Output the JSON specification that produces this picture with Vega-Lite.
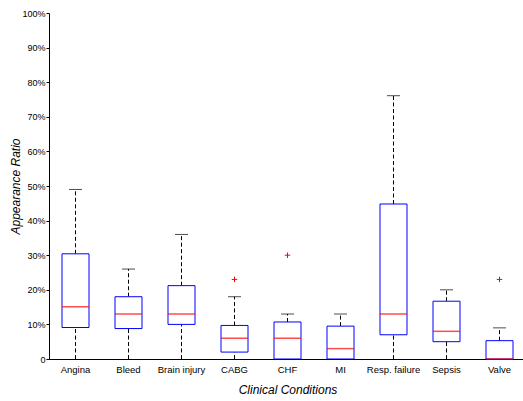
{
  "$schema": "https://vega.github.io/schema/vega-lite/v6.json",
  "width": 474,
  "height": 346,
  "autosize": {"type": "none"},
  "padding": {"left": 49, "top": 13, "right": 0, "bottom": 42},
  "background": "white",
  "config": {
    "view": {"stroke": null},
    "font": "Liberation Sans",
    "axis": {
      "domainColor": "#000000",
      "tickColor": "#000000",
      "labelColor": "#000000",
      "titleColor": "#000000",
      "grid": false,
      "titleFontStyle": "italic",
      "titleFontWeight": "normal",
      "titleFontSize": 12
    },
    "axisY": {
      "values": [0, 0.1, 0.2, 0.3, 0.4, 0.5, 0.6, 0.7, 0.8, 0.9, 1],
      "labelExpr": "datum.value == 0 ? '0' : format(datum.value, '.0%')",
      "labelFontSize": 9,
      "tickSize": 3,
      "labelPadding": 1,
      "labelOverlap": false,
      "titleX": -27,
      "titleBaseline": "bottom"
    }
  },
  "datasets": {
    "boxes": [
      {"condition": "Angina", "min": 0, "q1": 0.091, "median": 0.151, "q3": 0.304, "max": 0.49},
      {"condition": "Bleed", "min": 0, "q1": 0.088, "median": 0.13, "q3": 0.18, "max": 0.26},
      {"condition": "Brain injury", "min": 0, "q1": 0.1, "median": 0.13, "q3": 0.212, "max": 0.36},
      {"condition": "CABG", "min": 0, "q1": 0.02, "median": 0.06, "q3": 0.097, "max": 0.18},
      {"condition": "CHF", "min": 0, "q1": 0, "median": 0.06, "q3": 0.107, "max": 0.13},
      {"condition": "MI", "min": 0, "q1": 0, "median": 0.03, "q3": 0.095, "max": 0.13},
      {"condition": "Resp. failure", "min": 0, "q1": 0.07, "median": 0.13, "q3": 0.448, "max": 0.761},
      {"condition": "Sepsis", "min": 0, "q1": 0.05, "median": 0.08, "q3": 0.167, "max": 0.2},
      {"condition": "Valve", "min": 0, "q1": 0, "median": 0, "q3": 0.053, "max": 0.09}
    ],
    "outliers": [
      {"condition": "CABG", "value": 0.23},
      {"condition": "CHF", "value": 0.30},
      {"condition": "Valve", "value": 0.23}
    ]
  },
  "encoding": {
    "x": {
      "field": "condition",
      "type": "nominal",
      "sort": ["Angina", "Bleed", "Brain injury", "CABG", "CHF", "MI", "Resp. failure", "Sepsis", "Valve"],
      "scale": {"type": "band", "paddingInner": 0, "paddingOuter": 0, "range": [0, 477]},
      "title": "Clinical Conditions",
      "axis": {
        "labelAngle": 0,
        "labelFontSize": 9.5,
        "ticks": false,
        "labelPadding": 5,
        "titlePadding": 11
      }
    }
  },
  "layer": [
    {
      "data": {"name": "boxes"},
      "mark": {"type": "rule", "color": "#000000", "strokeWidth": 1, "strokeDash": [4, 2.5]},
      "encoding": {
        "y": {
          "field": "min",
          "type": "quantitative",
          "scale": {"domain": [0, 1], "nice": false, "zero": true},
          "title": "Appearance Ratio"
        },
        "y2": {"field": "q1"}
      }
    },
    {
      "data": {"name": "boxes"},
      "mark": {"type": "rule", "color": "#000000", "strokeWidth": 1, "strokeDash": [4, 2.5]},
      "encoding": {
        "y": {"field": "q3", "type": "quantitative", "title": "Appearance Ratio"},
        "y2": {"field": "max"}
      }
    },
    {
      "data": {"name": "boxes"},
      "mark": {"type": "tick", "color": "#000000", "size": 13, "thickness": 1, "orient": "horizontal"},
      "encoding": {
        "y": {"field": "max", "type": "quantitative", "title": "Appearance Ratio"}
      }
    },
    {
      "data": {"name": "boxes"},
      "mark": {"type": "bar", "size": 27, "fill": "#ffffff", "stroke": "#0000ff", "strokeWidth": 1},
      "encoding": {
        "y": {"field": "q1", "type": "quantitative", "title": "Appearance Ratio"},
        "y2": {"field": "q3"}
      }
    },
    {
      "data": {"name": "boxes"},
      "mark": {"type": "tick", "color": "#ff0000", "size": 27, "thickness": 1.5, "orient": "horizontal"},
      "encoding": {
        "y": {"field": "median", "type": "quantitative", "title": "Appearance Ratio"}
      }
    },
    {
      "data": {"name": "outliers"},
      "mark": {"type": "point", "shape": "M-1,0H1M0,-1V1", "filled": false, "stroke": "#ff0000", "strokeWidth": 1, "size": 30, "opacity": 1},
      "encoding": {
        "y": {"field": "value", "type": "quantitative", "title": "Appearance Ratio"}
      }
    }
  ]
}
